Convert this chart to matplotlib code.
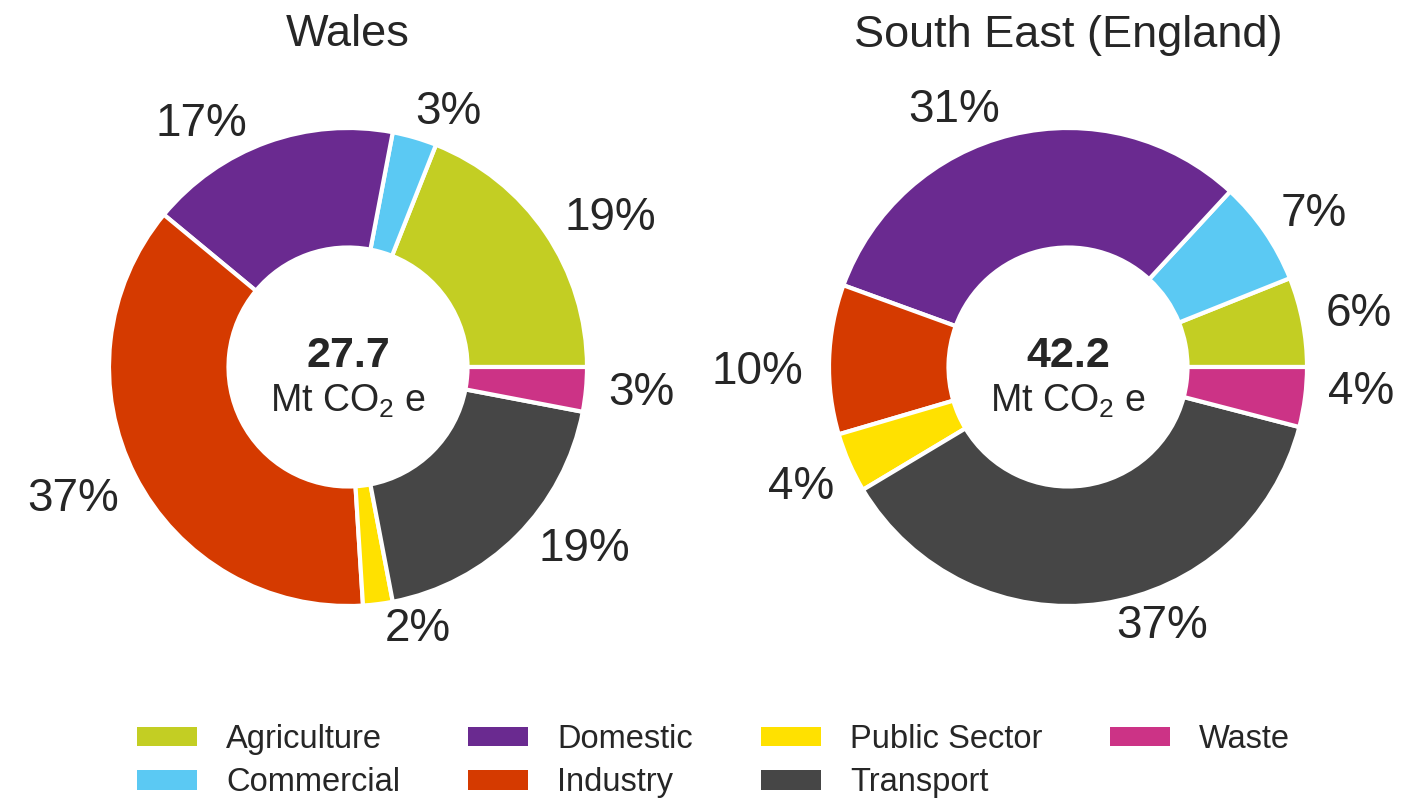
import matplotlib
matplotlib.use("Agg")
import numpy as np
import matplotlib.pyplot as plt
from matplotlib.patches import Patch

plt.rcParams["font.family"] = ["Liberation Sans", "DejaVu Sans"]
plt.rcParams["mathtext.fontset"] = "custom"
plt.rcParams["mathtext.rm"] = "Liberation Sans"

sectors = ["Agriculture", "Commercial", "Domestic", "Industry",
           "Public Sector", "Transport", "Waste"]
colors = ["#C3CE23", "#5BC9F3", "#6A2A90", "#D53A00",
          "#FFE100", "#464646", "#CC3386"]

regions = ["Wales", "South East (England)"]
totals = [27.7, 42.2]
wales_share = [19, 3, 17, 37, 2, 19, 3]
south_east_share = [6, 7, 31, 10, 4, 37, 4]
shares = [wales_share, south_east_share]

# label placement: angle nudge (deg) and radial distance per wedge
label_nudge = [[-4, -5, 11, -2, 8, 8, 1],
               [0, -2, 10, 2, 0, 12, 3]]
label_dist = [[1.27, 1.16, 1.20, 1.27, 1.12, 1.24, 1.23],
              [1.24, 1.22, 1.19, 1.30, 1.22, 1.14, 1.23]]

TEXT = "#262626"
W, H = 1423, 799
R_PX = 239
centres = [(348, 367), (1068, 367)]

fig = plt.figure(figsize=(W / 100, H / 100), dpi=100)


def add_donut(centre, values, total, title, nudge, dist):
    cx, cy = centre
    ax = fig.add_axes([(cx - R_PX) / W, (H - cy - R_PX) / H,
                       2 * R_PX / W, 2 * R_PX / H])
    wedges, _ = ax.pie(
        values,
        colors=colors,
        startangle=0,
        counterclock=True,
        radius=1,
        wedgeprops=dict(width=0.5, edgecolor="white", linewidth=3),
    )
    ax.set_xlim(-1, 1)
    ax.set_ylim(-1, 1)
    ax.set_aspect("equal")
    ax.axis("off")

    share = np.asarray(values, dtype=float) / np.sum(values) * 100
    for w, pct, dn, d in zip(wedges, share, nudge, dist):
        ang = np.deg2rad((w.theta1 + w.theta2) / 2 + dn)
        ax.text(d * np.cos(ang), d * np.sin(ang) - 0.015, f"{pct:.0f}%",
                ha="center", va="center", fontsize=33, color=TEXT)

    ax.text(0, 0.045, f"{total:.1f}", ha="center", va="center",
            fontsize=31, fontweight="bold", color=TEXT)
    ax.text(0, -0.145, "Mt CO$_2$ e", ha="center", va="center",
            fontsize=27, color=TEXT)
    fig.text(cx / W, 1 - 35 / H, title, ha="center", va="center",
             fontsize=32.5, color=TEXT)


for i in range(2):
    add_donut(centres[i], shares[i], totals[i], regions[i],
              label_nudge[i], label_dist[i])

handles = [Patch(facecolor=c, edgecolor="none", label=s)
           for s, c in zip(sectors, colors)]
fig.legend(
    handles=handles,
    ncol=4,
    loc="upper left",
    bbox_to_anchor=(137 / W, 1 - 724 / H),
    frameon=False,
    borderpad=0,
    borderaxespad=0,
    handlelength=1.84,
    handleheight=0.55,
    handletextpad=0.89,
    columnspacing=2.08,
    labelspacing=0.38,
    prop=dict(size=23.5),
    labelcolor=TEXT,
)

fig.savefig("out.png", dpi=100, facecolor="white")
